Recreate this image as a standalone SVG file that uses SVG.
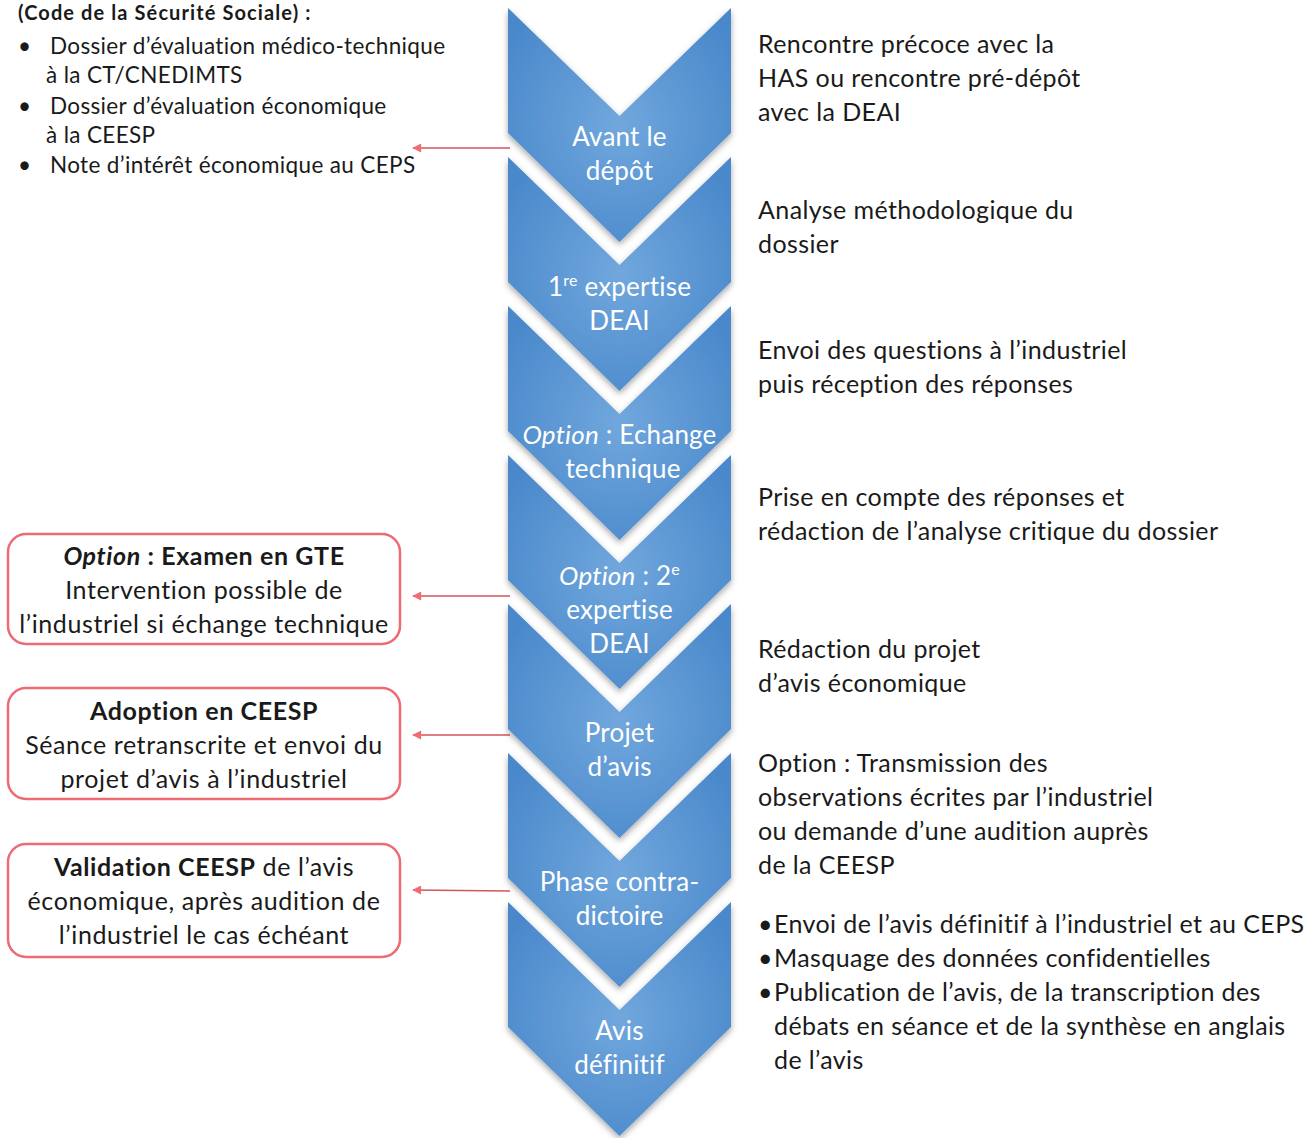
<svg xmlns="http://www.w3.org/2000/svg" xmlns:xlink="http://www.w3.org/1999/xlink" width="1316" height="1138" viewBox="0 0 1316 1138">
<style>
text{font-family:Lato,"Open Sans","Liberation Sans",sans-serif;fill:#1a1a1a}
.chev{fill:url(#blue);filter:url(#sh)}
.ct{font-size:26px;letter-spacing:0.2px;fill:#ffffff;text-anchor:middle}
.rt{font-size:25px;letter-spacing:0.4px}
.lt{font-size:22.5px;letter-spacing:0.35px}
.hd{font-size:20px;letter-spacing:1.1px;font-weight:bold}
.box{fill:#ffffff;stroke:#ee6b74;stroke-width:2.5}
.bt{font-size:25px;letter-spacing:0.6px;text-anchor:middle}
.b{font-weight:bold}
.i{font-style:italic}
.conn{stroke:#d4555c;stroke-width:1.5;fill:none;marker-end:url(#ah)}
</style>
<defs>
<radialGradient id="blue" cx="0.5" cy="0.5" r="0.6">
<stop offset="0" stop-color="#71a7dd"/>
<stop offset="1" stop-color="#4a89cb"/>
</radialGradient>
<filter id="sh" x="-10%" y="-10%" width="120%" height="125%">
<feDropShadow dx="0" dy="3" stdDeviation="3" flood-color="#000" flood-opacity="0.35"/>
</filter>
<path id="chevron" d="M0,0 L111.5,108 L223,0 L223,125 L111.5,234 L0,125 Z"/>
<marker id="ah" viewBox="0 0 10 10" refX="9" refY="5" markerWidth="10" markerHeight="9" markerUnits="userSpaceOnUse" orient="auto">
<path d="M0,0 L10,5 L0,10 Z" fill="#f06b73"/>
</marker>
</defs>
<rect width="1316" height="1138" fill="#ffffff"/>

<g id="connectors">
<path class="conn" d="M510,148 L413,148"/>
<path class="conn" d="M510,596 L413,596"/>
<path class="conn" d="M510,735 L413,735"/>
<path class="conn" d="M510,891 L413,890"/>
</g>

<g id="step1">
<use href="#chevron" class="chev" x="508" y="8"/>
<text class="ct" x="619.5" y="146">Avant le</text>
<text class="ct" x="619.5" y="180">dépôt</text>
</g>
<g id="step2">
<use href="#chevron" class="chev" x="508" y="157"/>
<text class="ct" x="619.5" y="296">1<tspan font-size="16" dy="-10">re</tspan><tspan dy="10"> expertise</tspan></text>
<text class="ct" x="619.5" y="330">DEAI</text>
</g>
<g id="step3">
<use href="#chevron" class="chev" x="508" y="306"/>
<text class="ct" x="619.5" y="444"><tspan class="i">Option</tspan> : Echange</text>
<text class="ct" x="623" y="478">technique</text>
</g>
<g id="step4">
<use href="#chevron" class="chev" x="508" y="455"/>
<text class="ct" x="619.5" y="585"><tspan class="i">Option</tspan> : 2<tspan font-size="16" dy="-10">e</tspan></text>
<text class="ct" x="619.5" y="619">expertise</text>
<text class="ct" x="619.5" y="653">DEAI</text>
</g>
<g id="step5">
<use href="#chevron" class="chev" x="508" y="604"/>
<text class="ct" x="619.5" y="742">Projet</text>
<text class="ct" x="619.5" y="776">d’avis</text>
</g>
<g id="step6">
<use href="#chevron" class="chev" x="508" y="753"/>
<text class="ct" x="619.5" y="891">Phase contra-</text>
<text class="ct" x="619.5" y="925">dictoire</text>
</g>
<g id="step7">
<use href="#chevron" class="chev" x="508" y="902"/>
<text class="ct" x="619.5" y="1040">Avis</text>
<text class="ct" x="619.5" y="1074">définitif</text>
</g>

<g id="dossiers">
<text class="hd" x="18" y="20">(Code de la Sécurité Sociale) :</text>
<text class="lt" x="18" y="54">•</text>
<text class="lt" x="50" y="54">Dossier d’évaluation médico-technique</text>
<text class="lt" x="46" y="83">à la CT/CNEDIMTS</text>
<text class="lt" x="18" y="114">•</text>
<text class="lt" x="50" y="114">Dossier d’évaluation économique</text>
<text class="lt" x="46" y="143">à la CEESP</text>
<text class="lt" x="18" y="173">•</text>
<text class="lt" x="50" y="173">Note d’intérêt économique au CEPS</text>
</g>

<g id="box-gte">
<rect class="box" x="8" y="534" width="392" height="110" rx="18"/>
<text class="bt" x="204" y="565"><tspan class="b i">Option</tspan><tspan class="b"> : Examen en GTE</tspan></text>
<text class="bt" x="204" y="599">Intervention possible de</text>
<text class="bt" x="204" y="633">l’industriel si échange technique</text>
</g>
<g id="box-adoption">
<rect class="box" x="8" y="688" width="392" height="111" rx="18"/>
<text class="bt b" x="204" y="720">Adoption en CEESP</text>
<text class="bt" x="204" y="754">Séance retranscrite et envoi du</text>
<text class="bt" x="204" y="788">projet d’avis à l’industriel</text>
</g>
<g id="box-validation">
<rect class="box" x="8" y="844" width="392" height="113" rx="18"/>
<text class="bt" x="204" y="876"><tspan class="b">Validation CEESP</tspan> de l’avis</text>
<text class="bt" x="204" y="910">économique, après audition de</text>
<text class="bt" x="204" y="944">l’industriel le cas échéant</text>
</g>

<g id="desc1">
<text class="rt" x="758" y="53">Rencontre précoce avec la</text>
<text class="rt" x="758" y="87">HAS ou rencontre pré-dépôt</text>
<text class="rt" x="758" y="121">avec la DEAI</text>
</g>
<g id="desc2">
<text class="rt" x="758" y="219">Analyse méthodologique du</text>
<text class="rt" x="758" y="253">dossier</text>
</g>
<g id="desc3">
<text class="rt" x="758" y="359">Envoi des questions à l’industriel</text>
<text class="rt" x="758" y="393">puis réception des réponses</text>
</g>
<g id="desc4">
<text class="rt" x="758" y="506">Prise en compte des réponses et</text>
<text class="rt" x="758" y="540">rédaction de l’analyse critique du dossier</text>
</g>
<g id="desc5">
<text class="rt" x="758" y="658">Rédaction du projet</text>
<text class="rt" x="758" y="692">d’avis économique</text>
</g>
<g id="desc6">
<text class="rt" x="758" y="772">Option : Transmission des</text>
<text class="rt" x="758" y="806">observations écrites par l’industriel</text>
<text class="rt" x="758" y="840">ou demande d’une audition auprès</text>
<text class="rt" x="758" y="874">de la CEESP</text>
</g>
<g id="desc7">
<text class="rt" x="758" y="933">•</text>
<text class="rt" x="774" y="933">Envoi de l’avis définitif à l’industriel et au CEPS</text>
<text class="rt" x="758" y="967">•</text>
<text class="rt" x="774" y="967">Masquage des données confidentielles</text>
<text class="rt" x="758" y="1001">•</text>
<text class="rt" x="774" y="1001">Publication de l’avis, de la transcription des</text>
<text class="rt" x="774" y="1035">débats en séance et de la synthèse en anglais</text>
<text class="rt" x="774" y="1069">de l’avis</text>
</g>
</svg>
